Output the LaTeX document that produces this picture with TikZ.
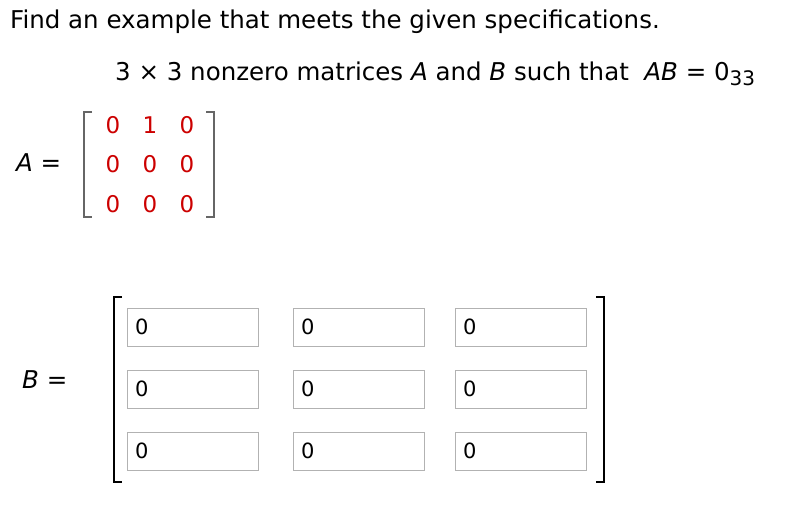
\documentclass[tikz,border=0pt]{standalone}
\usepackage{fontspec}
\setmainfont{DejaVu Sans}
\begin{document}
\begin{tikzpicture}[x=1pt,y=-1pt,
  txt/.style={anchor=base west,inner sep=0pt,font=\fontsize{24.5}{28}\selectfont},
  ent/.style={anchor=center,inner sep=0pt,text=red!80!black,font=\fontsize{23}{26}\selectfont},
  inbox/.style={draw=gray!60,minimum width=131pt,minimum height=38pt,anchor=north west,inner sep=0pt},
  val/.style={anchor=west,inner sep=0pt,font=\fontsize{21}{24}\selectfont},
  brk/.style={line width=1.2pt}]
\useasboundingbox (0,0) rectangle (810,504);
\node[txt] (t1) at (10,28) {Find an example that meets the given specifications.};
\node[txt] (t2) at (115,80) {3 × 3 nonzero matrices \textit{A} and \textit{B} such that \ \textit{AB} = 0\raisebox{-5pt}{\fontsize{20}{22}\selectfont 33}};
\node[txt] (al) at (16,171) {\textit{A} =};
\draw[brk,gray!80!black] (92,112) -- (84,112) -- (84,217) -- (92,217);
\draw[brk,gray!80!black] (206,112) -- (214,112) -- (214,217) -- (206,217);
\foreach \r/\y in {1/125,2/164,3/204}
  \foreach \c/\x in {1/113,2/150,3/187}
    \node[ent] (a\r\c) at (\x,\y) {\ifnum\r\c=12 1\else 0\fi};
\node[txt] (bl) at (22,388) {\textit{B} =};
\draw[brk] (122,297) -- (114,297) -- (114,482) -- (122,482);
\draw[brk] (596,297) -- (604,297) -- (604,482) -- (596,482);
\foreach \r/\y in {1/308,2/370,3/432}
  \foreach \c/\x in {1/127,2/293,3/455}{
    \node[inbox] (b\r\c) at (\x,\y) {};
    \node[val] at ([xshift=8pt]b\r\c.west) {0};}
\end{tikzpicture}
\end{document}
